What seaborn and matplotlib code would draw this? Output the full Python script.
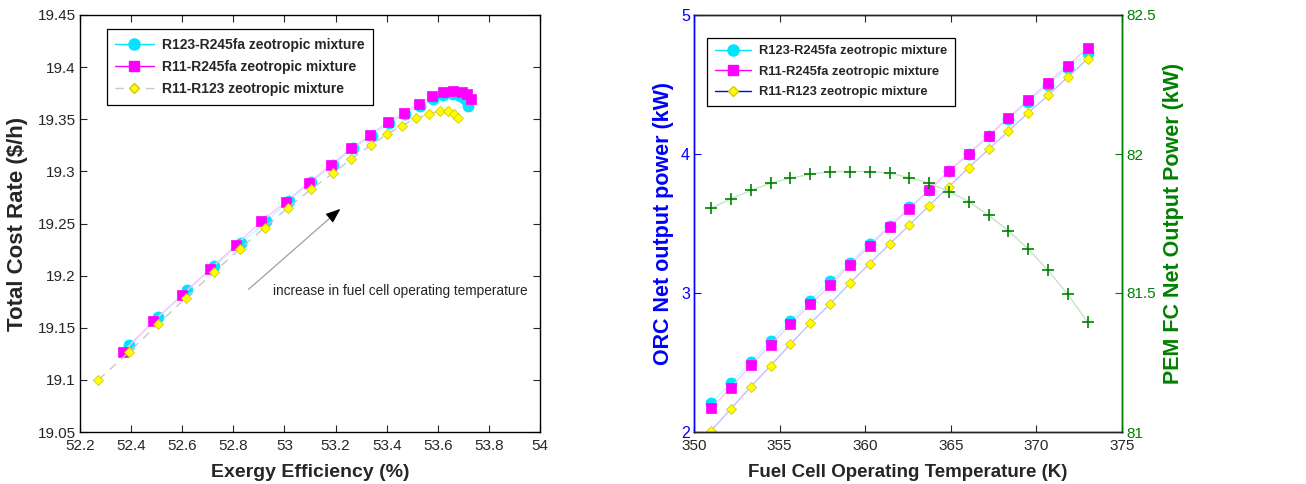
import matplotlib
matplotlib.use("Agg")
import matplotlib.pyplot as plt
from matplotlib.lines import Line2D
import matplotlib.ticker as mticker
import seaborn as sns

# ---------------- data: left panel (exergy efficiency vs total cost rate) ----------------
eff_r123_r245fa = [52.393, 52.507, 52.620, 52.725, 52.829, 52.929, 53.017, 53.105, 53.189, 53.267,
                   53.343, 53.410, 53.472, 53.529, 53.580, 53.620, 53.658, 53.685, 53.705, 53.719]
cost_r123_r245fa = [19.133, 19.160, 19.186, 19.209, 19.231, 19.252, 19.272, 19.290, 19.306, 19.322,
                    19.334, 19.346, 19.355, 19.363, 19.369, 19.373, 19.374, 19.372, 19.369, 19.363]

eff_r11_r245fa = [52.369, 52.486, 52.598, 52.708, 52.809, 52.909, 53.006, 53.095, 53.181, 53.262,
                  53.336, 53.404, 53.469, 53.526, 53.577, 53.621, 53.660, 53.694, 53.714, 53.731]
cost_r11_r245fa = [19.127, 19.156, 19.181, 19.206, 19.229, 19.252, 19.271, 19.289, 19.306, 19.322,
                   19.335, 19.347, 19.356, 19.365, 19.372, 19.376, 19.377, 19.376, 19.374, 19.369]

eff_r11_r123 = [52.272, 52.393, 52.507, 52.616, 52.723, 52.827, 52.922, 53.013, 53.105, 53.189,
                53.262, 53.338, 53.403, 53.461, 53.515, 53.565, 53.607, 53.639, 53.664, 53.681]
cost_r11_r123 = [19.100, 19.127, 19.154, 19.179, 19.203, 19.226, 19.246, 19.265, 19.283, 19.298,
                 19.312, 19.325, 19.336, 19.344, 19.351, 19.355, 19.358, 19.358, 19.355, 19.351]

# ---------------- data: right panel (temperature vs power) ----------------
temperature = [351.0, 352.16, 353.32, 354.47, 355.63, 356.79, 357.95, 359.11, 360.26, 361.42,
               362.58, 363.74, 364.89, 366.05, 367.21, 368.37, 369.53, 370.68, 371.84, 373.0]
orc_r123_r245fa = [2.208, 2.352, 2.501, 2.652, 2.800, 2.944, 3.083, 3.217, 3.356, 3.481,
                   3.617, 3.742, 3.876, 3.998, 4.128, 4.255, 4.375, 4.497, 4.617, 4.729]
orc_r11_r245fa = [2.170, 2.319, 2.479, 2.623, 2.776, 2.918, 3.054, 3.205, 3.335, 3.478,
                  3.605, 3.742, 3.879, 4.003, 4.133, 4.262, 4.389, 4.514, 4.636, 4.765]
orc_r11_r123 = [2.009, 2.167, 2.326, 2.477, 2.632, 2.781, 2.922, 3.071, 3.212, 3.351,
                3.490, 3.629, 3.766, 3.902, 4.034, 4.166, 4.298, 4.422, 4.554, 4.686]
pemfc_power = [81.805, 81.839, 81.869, 81.895, 81.913, 81.927, 81.937, 81.937, 81.937, 81.931,
               81.915, 81.895, 81.865, 81.829, 81.779, 81.724, 81.658, 81.581, 81.495, 81.394]

series_names = ["R123-R245fa zeotropic mixture",
                "R11-R245fa zeotropic mixture",
                "R11-R123 zeotropic mixture"]

left_xticks = [52.2, 52.4, 52.6, 52.8, 53.0, 53.2, 53.4, 53.6, 53.8, 54.0]
left_yticks = [19.05, 19.1, 19.15, 19.2, 19.25, 19.3, 19.35, 19.4, 19.45]
right_xticks = [350, 355, 360, 365, 370, 375]
right_yticks = [2, 3, 4, 5]
right_y2ticks = [81, 81.5, 82, 82.5]

annotation_text = "increase in fuel cell operating temperature"

# ---------------- style ----------------
sns.set_style("ticks")
plt.rcParams["font.family"] = ["Liberation Sans", "DejaVu Sans"]
plt.rcParams["xtick.direction"] = "in"
plt.rcParams["ytick.direction"] = "in"
plt.rcParams["axes.linewidth"] = 1.0

CYAN, MAGENTA, YELLOW = "#00e5ff", "#ff00ff", "#ffff00"
BLUE, GREEN = "#0000ff", "#008000"
pale_cyan, pale_mag, pale_gray = "#b8ffff", "#ffc0ff", "#c8c8c8"
pale_blue, pale_green = "#c0c0ff", "#c4e4c4"

fig = plt.figure(figsize=(13.06, 4.84), dpi=100)
ax1 = fig.add_axes([80 / 1306, 52 / 484, 460 / 1306, 417 / 484])
ax2 = fig.add_axes([694 / 1306, 52 / 484, 428 / 1306, 417 / 484])

gfmt = mticker.FuncFormatter(lambda v, p: "%g" % v)
TICK_FS = 11

# ---------------- left panel ----------------
sns.lineplot(x=eff_r123_r245fa, y=cost_r123_r245fa, ax=ax1, sort=False, estimator=None,
             color=pale_cyan, lw=1.0, marker="o", markersize=8,
             markerfacecolor=CYAN, markeredgecolor=CYAN, markeredgewidth=0.5)
sns.lineplot(x=eff_r11_r245fa, y=cost_r11_r245fa, ax=ax1, sort=False, estimator=None,
             color=pale_mag, lw=1.0, marker="s", markersize=7,
             markerfacecolor=MAGENTA, markeredgecolor=MAGENTA, markeredgewidth=0.5)
sns.lineplot(x=eff_r11_r123, y=cost_r11_r123, ax=ax1, sort=False, estimator=None,
             color=pale_gray, lw=1.0, dashes=(6, 5), marker="D", markersize=5,
             markerfacecolor=YELLOW, markeredgecolor="#d8c800", markeredgewidth=0.6)

ax1.set_xlim(52.2, 54.0)
ax1.set_ylim(19.05, 19.45)
ax1.set_xticks(left_xticks)
ax1.set_yticks(left_yticks)
ax1.xaxis.set_major_formatter(gfmt)
ax1.yaxis.set_major_formatter(gfmt)
ax1.tick_params(axis="x", which="major", labelsize=TICK_FS, length=5, width=0.8,
                top=True, pad=5)
ax1.tick_params(axis="y", which="major", labelsize=TICK_FS, length=5, width=0.8,
                right=True, pad=3)
ax1.set_xlabel("Exergy Efficiency (%)", fontsize=14, fontweight="bold", labelpad=8)
ax1.set_ylabel("Total Cost Rate ($/h)", fontsize=16, fontweight="bold", labelpad=7)
for s in ax1.spines.values():
    s.set_color("black")
    s.set_visible(True)

# arrow (gray shaft + black head)
ax1.annotate("", xy=(53.219, 19.264), xytext=(52.851, 19.185),
             arrowprops=dict(arrowstyle="-", color="#a0a0a0", lw=0.9))
ax1.annotate("", xy=(53.219, 19.264), xytext=(53.19, 19.258),
             arrowprops=dict(arrowstyle="-|>,head_length=0.9,head_width=0.35",
                             color="black", lw=0.8, shrinkA=0, shrinkB=0))
ax1.text(52.956, 19.185, annotation_text, fontsize=9.8, ha="left", va="center")

h_left = [
    Line2D([], [], color=CYAN, lw=1.0, marker="o", markersize=8, mfc=CYAN, mec=CYAN),
    Line2D([], [], color=MAGENTA, lw=1.0, marker="s", markersize=7, mfc=MAGENTA, mec=MAGENTA),
    Line2D([], [], color=pale_gray, lw=1.0, dashes=(6, 5), marker="D", markersize=5,
           mfc=YELLOW, mec="#d8c800"),
]
leg1 = ax1.legend(h_left, series_names, loc="upper left", bbox_to_anchor=(0.058, 0.966),
                  borderaxespad=0, frameon=True, fancybox=False, edgecolor="black",
                  framealpha=1, handlelength=2.8, handletextpad=0.6, labelspacing=0.6,
                  borderpad=0.6, prop=dict(weight="bold", size=10))
leg1.get_frame().set_linewidth(0.9)

# ---------------- right panel ----------------
sns.lineplot(x=temperature, y=orc_r123_r245fa, ax=ax2, sort=False, estimator=None,
             color=pale_cyan, lw=1.0, marker="o", markersize=8,
             markerfacecolor=CYAN, markeredgecolor=CYAN, markeredgewidth=0.5)
sns.lineplot(x=temperature, y=orc_r11_r245fa, ax=ax2, sort=False, estimator=None,
             color=pale_mag, lw=1.0, marker="s", markersize=7,
             markerfacecolor=MAGENTA, markeredgecolor=MAGENTA, markeredgewidth=0.5)
sns.lineplot(x=temperature, y=orc_r11_r123, ax=ax2, sort=False, estimator=None,
             color=pale_blue, lw=1.0, marker="D", markersize=5,
             markerfacecolor=YELLOW, markeredgecolor="#d8c800", markeredgewidth=0.6)

ax2.set_xlim(350, 375)
ax2.set_ylim(2, 5)
ax2.set_xticks(right_xticks)
ax2.set_yticks(right_yticks)
ax2.xaxis.set_major_formatter(gfmt)
ax2.yaxis.set_major_formatter(gfmt)
ax2.tick_params(axis="x", labelsize=TICK_FS, length=5, width=0.8, top=True, pad=5)
ax2.tick_params(axis="y", labelsize=TICK_FS + 0.5, length=5, width=0.8, colors=BLUE, pad=3,
                right=False)
ax2.set_xlabel("Fuel Cell Operating Temperature (K)", fontsize=13.5, fontweight="bold",
               labelpad=8)
ax2.set_ylabel("ORC Net output power (kW)", fontsize=15.5, fontweight="bold", color=BLUE,
               labelpad=5)
for s in ax2.spines.values():
    s.set_color("black")
    s.set_visible(True)
ax2.spines["left"].set_color(BLUE)

ax3 = ax2.twinx()
sns.lineplot(x=temperature, y=pemfc_power, ax=ax3, sort=False, estimator=None,
             color=pale_green, lw=1.0, marker="+", markersize=9,
             markerfacecolor=GREEN, markeredgecolor=GREEN, markeredgewidth=1.2)
ax3.set_ylim(81, 82.5)
ax3.set_yticks(right_y2ticks)
ax3.yaxis.set_major_formatter(gfmt)
ax3.tick_params(axis="y", labelsize=TICK_FS, length=5, width=0.8, colors=GREEN, pad=3)
ax3.set_ylabel("PEM FC Net Output Power (kW)", fontsize=15.5, fontweight="bold",
               color=GREEN, labelpad=5)
for s in ax3.spines.values():
    s.set_visible(True)
ax3.spines["right"].set_color(GREEN)
ax3.spines["left"].set_color(BLUE)

h_right = [
    Line2D([], [], color=CYAN, lw=1.0, marker="o", markersize=8, mfc=CYAN, mec=CYAN),
    Line2D([], [], color=MAGENTA, lw=1.0, marker="s", markersize=7, mfc=MAGENTA, mec=MAGENTA),
    Line2D([], [], color=BLUE, lw=1.0, marker="D", markersize=5, mfc=YELLOW, mec="#d8c800"),
]
leg2 = ax3.legend(h_right, series_names, loc="upper left", bbox_to_anchor=(0.031, 0.946),
                  borderaxespad=0, frameon=True, fancybox=False, edgecolor="black",
                  framealpha=1, handlelength=2.8, handletextpad=0.6, labelspacing=0.65,
                  borderpad=0.6, prop=dict(weight="bold", size=9.3))
leg2.get_frame().set_linewidth(0.9)

fig.savefig("out.png", dpi=100)
